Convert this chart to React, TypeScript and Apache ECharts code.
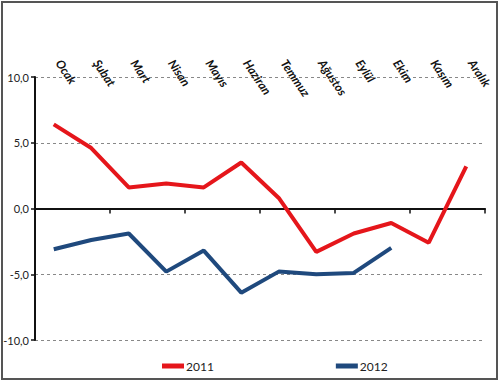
import React, { useEffect, useRef } from "react";
import * as echarts from "echarts";

const months = ["Ocak", "Şubat", "Mart", "Nisan", "Mayıs", "Haziran", "Temmuz", "Ağustos", "Eylül", "Ekim", "Kasım", "Aralık"];
const values2011 = [6.4, 4.6, 1.6, 1.9, 1.6, 3.5, 0.8, -3.3, -1.9, -1.1, -2.6, 3.2];
const values2012: (number | null)[] = [-3.1, -2.4, -1.9, -4.8, -3.2, -6.4, -4.8, -5.0, -4.9, -3.0, null, null];
const seriesNames = ["2011", "2012"];
const yTicks = { min: -10, max: 10, interval: 5 };

const FONT = "Lato, 'Open Sans', sans-serif";

export default function App() {
  const ref = useRef<HTMLDivElement>(null);
  useEffect(() => {
    if (!ref.current) return;
    const chart = echarts.init(ref.current, null, { renderer: "svg" });
    chart.setOption({
      animation: false,
      backgroundColor: "#ffffff",
      textStyle: { fontFamily: FONT },
      graphic: [
        {
          type: "rect",
          shape: { x: 2, y: 2, width: 495, height: 377 },
          style: { fill: "none", stroke: "#555555", lineWidth: 2 },
          z: 100,
        },
      ],
      grid: { left: 35, right: 15, top: 77, bottom: 44, containLabel: false },
      legend: {
        data: seriesNames,
        left: 157,
        top: 355,
        itemGap: 122,
        itemWidth: 22,
        itemHeight: 5,
        icon: "rect",
        textStyle: { fontFamily: FONT, fontSize: 12, color: "#222", padding: [0, 0, 0, -3] },
      },
      xAxis: [
        {
          type: "category",
          data: months,
          position: "top",
          axisLine: { show: false, onZero: false },
          axisTick: { show: false },
          axisLabel: {
            rotate: 56,
            align: "left",
            verticalAlign: "bottom",
            margin: 13,
            fontFamily: FONT,
            fontSize: 12,
            fontWeight: "bold",
            fontStyle: "italic",
            color: "#111",
          },
          splitLine: { show: false },
        },
        {
          type: "category",
          data: months,
          position: "bottom",
          axisLine: { show: true, onZero: true, lineStyle: { color: "#111", width: 2 } },
          axisTick: { show: true, length: 5, lineStyle: { color: "#111", width: 1.5 } },
          axisLabel: { show: false },
          splitLine: { show: false },
        },
      ],
      yAxis: {
        type: "value",
        min: yTicks.min,
        max: yTicks.max,
        interval: yTicks.interval,
        axisLine: { show: true, lineStyle: { color: "#111", width: 2 } },
        axisTick: { show: true, length: 4, lineStyle: { color: "#111", width: 1.5 } },
        axisLabel: {
          fontFamily: FONT,
          fontSize: 11,
          color: "#222",
          margin: 6,
          formatter: (v: number) => v.toFixed(1).replace(".", ","),
        },
        splitLine: { show: true, lineStyle: { color: "#888", type: [3, 3], width: 1 } },
      },
      series: [
        {
          name: seriesNames[0],
          type: "line",
          data: values2011,
          xAxisIndex: 0,
          symbol: "none",
          color: "#e5161b",
          lineStyle: { width: 4, color: "#e5161b" },
        },
        {
          name: seriesNames[1],
          type: "line",
          data: values2012,
          xAxisIndex: 0,
          symbol: "none",
          color: "#1f497d",
          lineStyle: { width: 4, color: "#1f497d" },
        },
      ],
    });
    return () => chart.dispose();
  }, []);
  return <div ref={ref} style={{ position: "fixed", left: 0, top: 0, width: 500, height: 384 }} />;
}
